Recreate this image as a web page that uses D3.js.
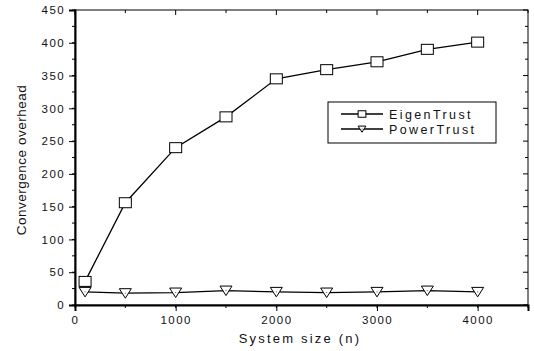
<!DOCTYPE html>
<html>
<head>
<meta charset="utf-8">
<script src="https://cdn.jsdelivr.net/npm/d3@7"></script>
<style>
  body { margin: 0; background: #fff; }
  text { font-family: "Liberation Sans", Arial, sans-serif; fill: #111; }
</style>
</head>
<body>
<div id="chart"></div>
<script>
// data
const sizes = [100, 500, 1000, 1500, 2000, 2500, 3000, 3500, 4000];
const eigenTrust = [36, 156, 240, 287, 345, 359, 371, 390, 401];
const powerTrust = [20, 18, 19, 22, 20, 19, 20, 22, 20];
const xTicks = [0, 1000, 2000, 3000, 4000];
const yTicks = [0, 50, 100, 150, 200, 250, 300, 350, 400, 450];

const W = 534, H = 351;
const margin = { top: 10, right: 6, bottom: 46, left: 75 };
const width = W - margin.left - margin.right;
const height = H - margin.top - margin.bottom;

const svg = d3.select('#chart').append('svg')
  .attr('width', W).attr('height', H);
const g = svg.append('g')
  .attr('transform', `translate(${margin.left},${margin.top})`);

const x = d3.scaleLinear().domain([0, 4500]).range([0, width]);
const y = d3.scaleLinear().domain([0, 450]).range([height, 0]);

// frame
g.append('rect').attr('width', width).attr('height', height)
  .attr('fill', 'none').attr('stroke', '#000').attr('stroke-width', 1);

// minor ticks every 500 / 25
const xMinor = d3.range(0, 4501, 500);
const yMinor = d3.range(0, 451, 25);

// bottom axis (ticks outward)
const xAxis = g.append('g').attr('transform', `translate(0,${height})`)
  .call(d3.axisBottom(x).tickValues(xTicks).tickSize(6).tickPadding(5).tickFormat(d3.format('d')));
xAxis.select('.domain').attr('stroke-width', 2);
xAxis.selectAll('text').style('font-size', '11.5px').style('letter-spacing', '1.4px');
g.append('g').attr('transform', `translate(0,${height})`)
  .selectAll('line').data(xMinor).join('line')
  .attr('x1', d => x(d)).attr('x2', d => x(d)).attr('y1', 0).attr('y2', 3)
  .attr('stroke', '#000');

// left axis (ticks outward)
const yAxis = g.append('g')
  .call(d3.axisLeft(y).tickValues(yTicks).tickSize(6).tickPadding(4));
yAxis.select('.domain').attr('stroke-width', 2);
yAxis.selectAll('text').style('font-size', '11.5px').style('letter-spacing', '1.4px');
g.append('g').selectAll('line').data(yMinor).join('line')
  .attr('x1', -3).attr('x2', 0).attr('y1', d => y(d)).attr('y2', d => y(d))
  .attr('stroke', '#000');

// top & right ticks (inward)
g.append('g').selectAll('line').data(xMinor).join('line')
  .attr('x1', d => x(d)).attr('x2', d => x(d))
  .attr('y1', 0).attr('y2', d => d % 1000 === 0 ? 5 : 3)
  .attr('stroke', '#000');
g.append('g').selectAll('line').data(yMinor).join('line')
  .attr('x1', d => width - (d % 50 === 0 ? 5 : 3)).attr('x2', width)
  .attr('y1', d => y(d)).attr('y2', d => y(d))
  .attr('stroke', '#000');

// axis titles
svg.append('text')
  .attr('x', 300).attr('y', 343)
  .attr('text-anchor', 'middle')
  .style('font-size', '13px').style('letter-spacing', '2.2px')
  .text('System size (n)');
svg.append('text')
  .attr('transform', `translate(26,160) rotate(-90)`)
  .attr('text-anchor', 'middle')
  .style('font-size', '13.5px').style('letter-spacing', '0.5px')
  .text('Convergence overhead');

// lines
const line = d3.line().x(d => x(d[0])).y(d => y(d[1]));
const eData = sizes.map((s, i) => [s, eigenTrust[i]]);
const pData = sizes.map((s, i) => [s, powerTrust[i]]);

g.append('path').datum(eData).attr('d', line)
  .attr('fill', 'none').attr('stroke', '#000').attr('stroke-width', 1.3);
g.append('path').datum(pData).attr('d', line)
  .attr('fill', 'none').attr('stroke', '#000').attr('stroke-width', 1.3);

function square(sel, k = 1) {
  sel.append('rect').attr('x', -6 * k).attr('y', -5 * k).attr('width', 12 * k).attr('height', 10 * k)
    .attr('fill', '#fff').attr('stroke', '#000').attr('stroke-width', 1);
}
function triangle(sel, k = 1) {
  sel.append('path').attr('d', `M${-6 * k},${-4.5 * k}L${6 * k},${-4.5 * k}L0,${5 * k}Z`)
    .attr('fill', '#fff').attr('stroke', '#000').attr('stroke-width', 1);
  sel.append('rect').attr('x', -0.5).attr('y', -0.5).attr('width', 1).attr('height', 1)
    .attr('fill', '#555');
}

g.selectAll('.sq').data(eData).join('g').attr('class', 'sq')
  .attr('transform', d => `translate(${x(d[0])},${y(d[1])})`)
  .call(square);
g.selectAll('.tri').data(pData).join('g').attr('class', 'tri')
  .attr('transform', d => `translate(${x(d[0])},${y(d[1])})`)
  .call(triangle);

// legend
const legend = svg.append('g').attr('transform', 'translate(328,102)');
legend.append('rect').attr('width', 168).attr('height', 41)
  .attr('fill', '#fff').attr('stroke', '#000').attr('stroke-width', 1);
const entries = [['EigenTrust', square], ['PowerTrust', triangle]];
entries.forEach(([name, mark], i) => {
  const ly = 12 + i * 15;
  legend.append('line').attr('x1', 13).attr('x2', 55).attr('y1', ly).attr('y2', ly)
    .attr('stroke', '#000').attr('stroke-width', 1.3);
  legend.append('g').attr('transform', `translate(34,${ly})`).call(mark, 0.65);
  legend.append('text').attr('x', 61).attr('y', ly + 5)
    .style('font-size', '12.5px').style('letter-spacing', '2.4px')
    .text(name);
});
</script>
</body>
</html>
